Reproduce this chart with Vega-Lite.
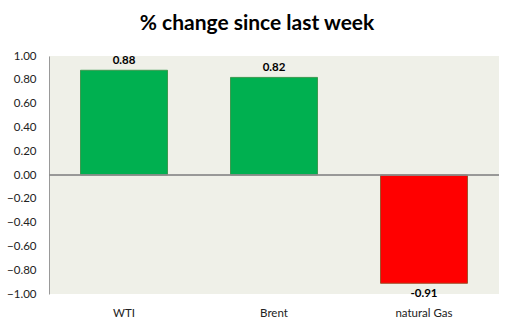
{
  "$schema": "https://vega.github.io/schema/vega-lite/v6.json",
  "width": 450,
  "height": 238,
  "autosize": {"type": "none"},
  "padding": {"left": 49, "top": 56, "right": 15, "bottom": 34},
  "background": "white",
  "title": {
    "text": "% change since last week",
    "font": "Lato",
    "fontSize": 21,
    "fontWeight": "bold",
    "color": "#000000",
    "anchor": "middle",
    "dx": -17,
    "offset": 16
  },
  "config": {
    "view": {"fill": "#EFF0E8", "stroke": null},
    "axis": {"labelFont": "Lato", "labelFontSize": 11.5, "labelColor": "#222222", "grid": false, "ticks": false, "title": null, "labelOverlap": false},
    "axisY": {"values": [-1, -0.8, -0.6, -0.4, -0.2, 0, 0.2, 0.4, 0.6, 0.8, 1], "format": ".2f", "domain": true, "domainColor": "#999999", "labelPadding": 13, "labelOverlap": false, "tickCount": 11}
  },
  "data": {
    "values": [
      {"fuel": "WTI", "change": 0.88, "label": "0.88"},
      {"fuel": "Brent", "change": 0.82, "label": "0.82"},
      {"fuel": "natural Gas", "change": -0.91, "label": "-0.91"}
    ]
  },
  "encoding": {
    "x": {
      "field": "fuel",
      "type": "nominal",
      "sort": null,
      "scale": {"paddingInner": 0.42, "paddingOuter": 0.21},
      "axis": {"domain": false, "labelAngle": 0, "labelPadding": 13}
    },
    "y": {
      "field": "change",
      "type": "quantitative",
      "scale": {"domain": [-1, 1], "nice": false, "zero": false},
      "axis": {"values": [-1, -0.8, -0.6, -0.4, -0.2, 0, 0.2, 0.4, 0.6, 0.8, 1], "format": ".2f", "labelOverlap": false}
    }
  },
  "layer": [
    {
      "mark": {"type": "bar", "strokeWidth": 1},
      "encoding": {
        "fill": {"condition": {"test": "datum.change < 0", "value": "#FF0000"}, "value": "#00B050"},
        "stroke": {"condition": {"test": "datum.change < 0", "value": "#A0522D"}, "value": "#3C9A50"}
      }
    },
    {
      "mark": {"type": "rule", "color": "#8C8C8C", "strokeWidth": 1},
      "encoding": {"y": {"datum": 0, "type": "quantitative"}, "x": {"value": 0}, "x2": {"value": 450}}
    },
    {
      "transform": [{"filter": "datum.change >= 0"}],
      "mark": {"type": "text", "font": "Lato", "fontSize": 11.5, "fontWeight": "bold", "color": "#000000", "baseline": "bottom", "dy": -4},
      "encoding": {
        "text": {"field": "label"}
      }
    },
    {
      "transform": [{"filter": "datum.change < 0"}],
      "mark": {"type": "text", "font": "Lato", "fontSize": 11.5, "fontWeight": "bold", "color": "#000000", "baseline": "top", "dy": 5},
      "encoding": {
        "text": {"field": "label"}
      }
    }
  ]
}
